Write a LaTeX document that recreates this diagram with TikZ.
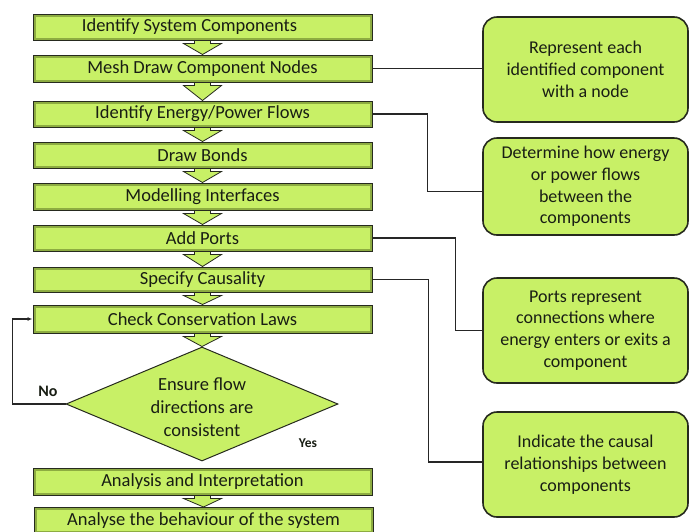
\documentclass[tikz,border=0pt]{standalone}
\usepackage{fontspec}
\setmainfont{Carlito}
\usetikzlibrary{shapes.geometric,backgrounds,arrows.meta}

\definecolor{lime}{RGB}{200,240,102}
\definecolor{rim}{RGB}{38,42,30}
\definecolor{inkc}{RGB}{25,30,20}
\definecolor{glow}{RGB}{70,90,20}

\tikzset{
  stepbox/.style={rectangle, fill=lime, draw=rim, line width=1pt,
    minimum width=339pt, inner sep=0pt, text=inkc,
    font=\fontsize{18.5}{22}\selectfont,
    path picture={\draw[glow, line width=5pt, opacity=0.45]
      (path picture bounding box.south west) rectangle
      (path picture bounding box.north east);}},
  decision/.style={diamond, fill=lime, draw=rim, line width=1pt,
    minimum width=272pt, minimum height=114pt, inner sep=0pt},
  note/.style={rectangle, rounded corners=14pt, fill=lime, draw=rim,
    line width=1.6pt, minimum width=205pt, inner sep=0pt, align=center,
    text=inkc, font=\fontsize{18}{21.7}\selectfont},
  link/.style={draw=black!85, line width=1.2pt},
  flowarrow/.style={fill=lime, draw=rim, line width=0.8pt},
  answer/.style={text=inkc, font=\bfseries\fontsize{16}{16}\selectfont},
}

% wide down-pointing block arrow between two stacked nodes
\newcommand{\chevron}[2]{%
  \begin{scope}[on background layer]
    \filldraw[flowarrow]
      ([xshift=-8pt,yshift=2pt]#1.south) --
      ([xshift=-8pt,yshift=-3pt]#1.south) --
      ([xshift=-19pt,yshift=-3pt]#1.south) --
      (#2.north) --
      ([xshift=19pt,yshift=-3pt]#1.south) --
      ([xshift=8pt,yshift=-3pt]#1.south) --
      ([xshift=8pt,yshift=2pt]#1.south) -- cycle;
  \end{scope}}

\begin{document}
\begin{tikzpicture}[x=1pt,y=-1pt]
  \clip (0,0) rectangle (693,531);

  % main flow
  \node[stepbox, minimum height=26pt] (s1) at (202.5,27) {\hspace*{-26pt}Identify System Components};
  \node[stepbox, minimum height=27pt] (s2) at (202.5,68.5) {Mesh Draw Component Nodes};
  \node[stepbox, minimum height=26pt] (s3) at (202.5,114) {Identify Energy/Power Flows};
  \node[stepbox, minimum height=26pt] (s4) at (202.5,155) {Draw Bonds};
  \node[stepbox, minimum height=27pt] (s5) at (202.5,196.5) {Modelling Interfaces};
  \node[stepbox, minimum height=26pt] (s6) at (202.5,238) {Add Ports};
  \node[stepbox, minimum height=25pt] (s7) at (202.5,279.5) {Specify Causality};
  \node[stepbox, minimum height=28pt] (s8) at (202.5,319) {Check Conservation Laws};
  \node[decision] (dia) at (202,404) {};
  \node[text=inkc, align=center, font=\fontsize{18.5}{23}\selectfont] (dtext) at (202,407)
    {Ensure flow\\directions are\\consistent};
  \node[stepbox, minimum height=27pt] (s9) at (202.5,481.5) {Analysis and Interpretation};
  \node[stepbox, minimum height=26pt] (s10) at (203.5,520.5) {Analyse the behaviour of the system};

  \chevron{s1}{s2}
  \chevron{s2}{s3}
  \chevron{s3}{s4}
  \chevron{s4}{s5}
  \chevron{s5}{s6}
  \chevron{s6}{s7}
  \chevron{s7}{s8}
  \chevron{s8}{dia}
  \chevron{s9}{s10}

  % explanatory notes
  \node[note, minimum height=105pt] (c1) at (585.5,69.5)
    {Represent each\\identified component\\with a node};
  \node[note, minimum height=97pt] (c2) at (585.5,186.5)
    {Determine how energy\\or power flows\\between the\\components};
  \node[note, minimum height=105pt] (c3) at (585.5,330.5)
    {Ports represent\\connections where\\energy enters or exits a\\component};
  \node[note, minimum height=105pt] (c4) at (585.5,464.5)
    {Indicate the causal\\relationships between\\components};

  % note connectors
  \draw[link] (s2.east) -- (s2.east -| c1.west);
  \draw[link] (s3.east) -- ++(55,0) |- ([yshift=-5pt]c2.west);
  \draw[link] (s6.east) -- ++(83,0) |- (c3.west);
  \draw[link] (s7.east) -- ++(56,0) |- ([yshift=2.5pt]c4.west);

  % feedback loop
  \draw[link, -{Latex[length=5pt,width=4pt]}] (dia.west) -- ++(-53,0) |- (s8.west);
  \node[answer] (no) at (48,391) {No};
  \node[answer, font=\bfseries\fontsize{13.5}{13.5}\selectfont] (yes) at (308,443) {Yes};
\end{tikzpicture}
\end{document}
